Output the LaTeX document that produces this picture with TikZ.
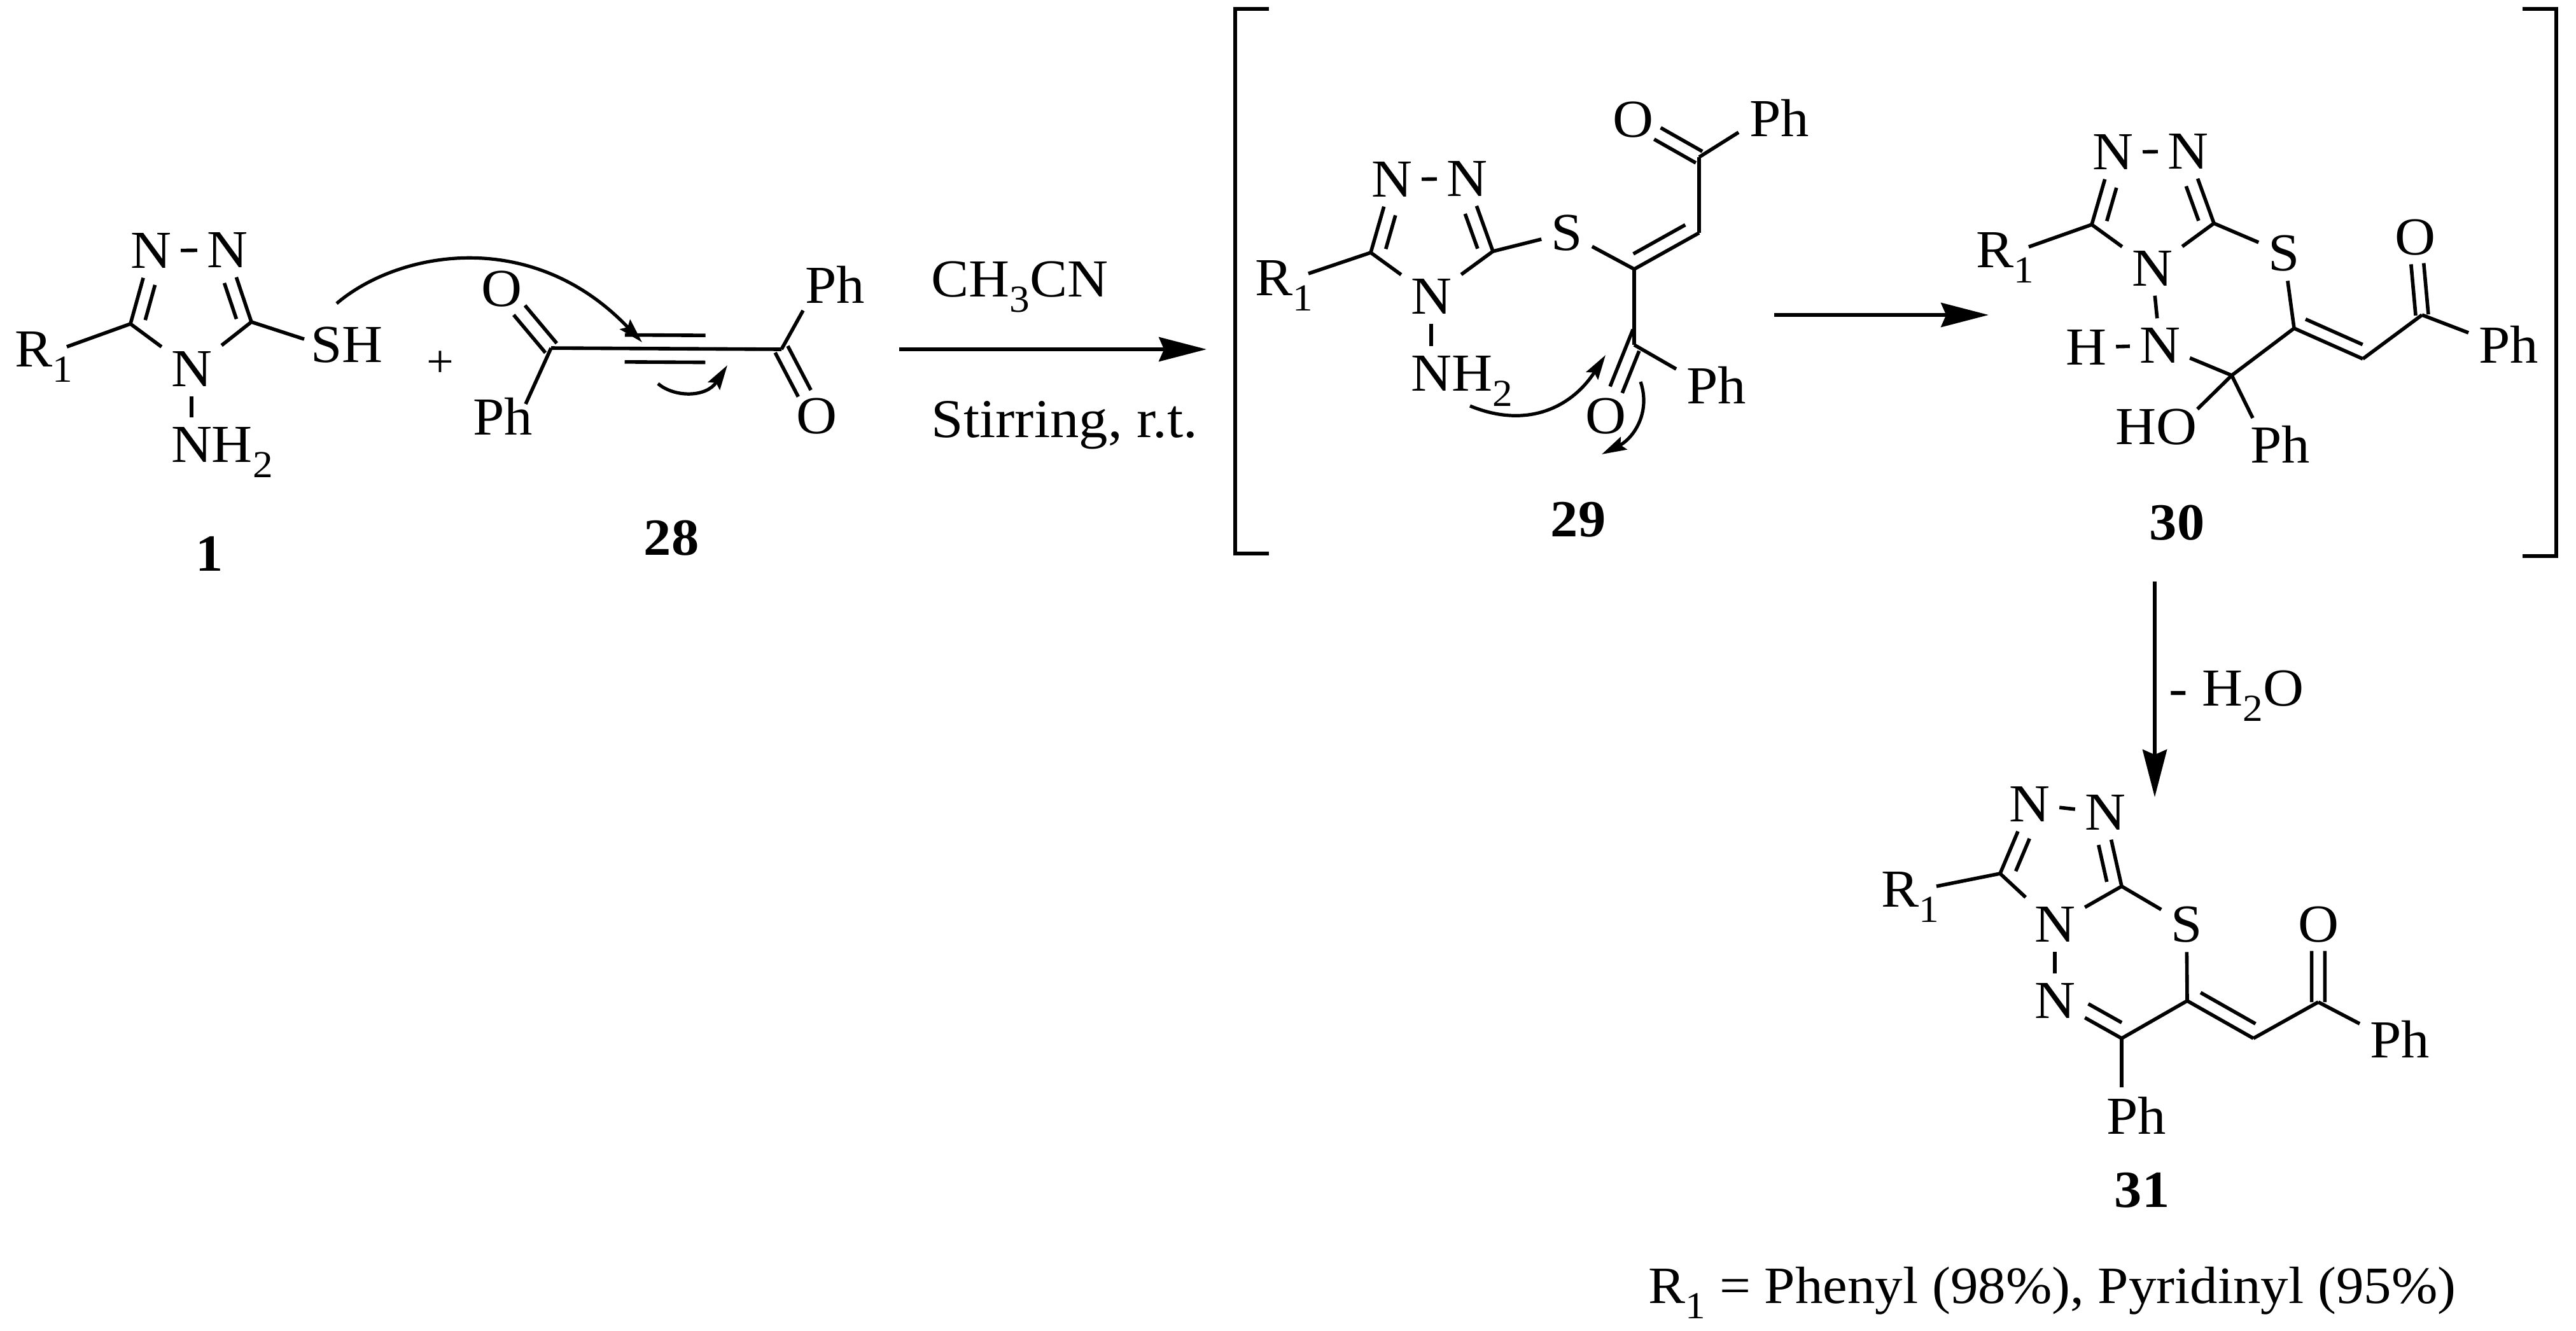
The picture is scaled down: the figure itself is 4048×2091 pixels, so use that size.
\documentclass[tikz,border=0pt]{standalone}
\usepackage{fontspec}
\setmainfont[FakeStretch=1.055]{Liberation Serif}
\usepackage{tikz}
\usetikzlibrary{arrows.meta}
\usetikzlibrary{calc}
\tikzstyle{atom} = [inner sep=3.6pt, font=\fontsize{21}{25}\selectfont]
\tikzstyle{cpdnum} = [inner sep=0pt, font=\fontsize{20.5}{25}\selectfont\bfseries]
\tikzstyle{cond} = [inner sep=0pt, anchor=base west, font=\fontsize{21}{25}\selectfont]
\tikzstyle{bond} = [draw, line width=1.4pt]
\tikzstyle{bracket} = [draw, line width=1.5pt]
\tikzstyle{react} = [draw, line width=1.5pt, -{Stealth[length=18.7pt,width=9.5pt,inset=2pt]}]
\tikzstyle{push} = [draw, line width=1.3pt, -{Stealth[length=9.7pt,width=5.5pt,inset=1.5pt]}]
\newcommand{\subnum}[1]{\raisebox{-6pt}[0pt][0pt]{\fontsize{15}{15}\selectfont #1}}
\newcommand{\rone}{R\rlap{\subnum{1}}}
\newcommand{\amine}{N\rlap{H\subnum{2}}}
% second line of a double bond: from, to, side offset
\newcommand{\inbond}[5]{\path [bond] ($(#1)!#4!(#2)!#3!90:(#2)$) -- ($(#1)!#5!(#2)!#3!90:(#2)$);}
\begin{document}
\begin{tikzpicture}[x=.25pt,y=-.25pt]
\useasboundingbox (0,0) rectangle (4048,2091);

    % Compound 1
    \node [atom] (aN1) at (237,394) {N};
    \node [atom] (aN2) at (357,393) {N};
    \node [atom] (aN4) at (301,580) {N};
    \node [atom] (aNH) at (301,699) {\amine};
    \node [atom] (aR) at (53,549) {\rone};
    \node [atom] (aSH) at (545,542) {SH};
    \coordinate (aC3) at (205,509);
    \coordinate (aC5) at (395,506);
    \node [cpdnum] (num1) at (329,870) {1};

    \path [bond] (aN1) -- (aN2);
    \path [bond] (aC3) -- (aN1);
    \path [bond] (aC5) -- (aN2);
    \path [bond] (aC3) -- (aN4);
    \path [bond] (aC5) -- (aN4);
    \path [bond] (aN4) -- (aNH);
    \path [bond] ($(aR)+(52,-4)$) -- (aC3);
    \path [bond] (aC5) -- ($(aSH)+(-67,-9)$);
    \inbond{aC3}{aN1}{-5.2pt}{.1}{.58}
    \inbond{aC5}{aN2}{5.2pt}{.1}{.6}

    \node [font=\fontsize{18}{18}\selectfont, inner sep=0pt] (plus) at (692,572) {+};

    % Compound 28
    \coordinate (bC1) at (866,547);
    \coordinate (bC2) at (1228,549);
    \node [atom] (bO1) at (788,454) {O};
    \node [atom] (bO2) at (1283,654) {O};
    \node [atom] (bPh1) at (790,654) {Ph};
    \node [atom] (bPh2) at (1312,447) {Ph};
    \node [cpdnum] (num28) at (1055,846) {28};

    \path [bond] (bC1) -- (bC2);
    \inbond{bC1}{bC2}{5.3pt}{.32}{.67}
    \inbond{bC1}{bC2}{-5.3pt}{.32}{.67}
    \inbond{bC1}{bO1}{2.9pt}{0}{.64}
    \inbond{bC1}{bO1}{-2.9pt}{0}{.64}
    \inbond{bC2}{bO2}{2.8pt}{0}{.66}
    \inbond{bC2}{bO2}{-2.8pt}{0}{.66}
    \path [bond] (bC1) -- ($(bPh1)+(36,-19)$);
    \path [bond] (bC2) -- ($(bPh2)+(-50,41)$);

    \path [push] ($(aSH)+(-16,-65)$) .. controls (625,395) and (835,355) .. (1009,538);
    \path [push] ($(bC1)+(168,56)$) .. controls (1060,625) and (1110,625) .. ($(bC2)+(-85,25)$);

    % Reaction conditions
    \coordinate (arrowAa) at (1413,549);
    \coordinate (arrowAb) at (1896,549);
    \path [react] (arrowAa) -- (arrowAb);
    \node [cond] (solvent) at (1463,466) {CH\subnum{3}CN};
    \node [cond, font=\fontsize{21.5}{25}\selectfont] (stir) at (1463,687) {Stirring, r.t.};

    % Brackets
    \path [bracket] (1994,14) -- (1941,14) -- (1941,870) -- (1994,870);
    \path [bracket] (3964,14) -- (4017,14) -- (4017,874) -- (3964,874);

    % Compound 29
    \node [atom] (cN1) at (2187,282) {N};
    \node [atom] (cN2) at (2305,281) {N};
    \node [atom] (cN4) at (2249,466) {N};
    \node [atom] (cNH) at (2249,587) {\amine};
    \node [atom] (cR) at (2002,437) {\rone};
    \node [atom] (cS) at (2462,366) {S};
    \node [atom] (cO1) at (2566,188) {O};
    \node [atom] (cO2) at (2523,654) {O};
    \node [atom] (cPh1) at (2796,185) {Ph};
    \node [atom] (cPh2) at (2697,605) {Ph};
    \coordinate (cC3) at (2154,397);
    \coordinate (cC5) at (2346,395);
    \coordinate (cCa) at (2568,423);
    \coordinate (cCb) at (2670,366);
    \coordinate (cCc) at (2670,247);
    \coordinate (cCd) at (2568,542);
    \node [cpdnum] (num29) at (2480,817) {29};

    \path [bond] (cN1) -- (cN2);
    \path [bond] (cC3) -- (cN1);
    \path [bond] (cC5) -- (cN2);
    \path [bond] (cC3) -- (cN4);
    \path [bond] (cC5) -- (cN4);
    \path [bond] (cN4) -- (cNH);
    \path [bond] ($(cR)+(54,-7)$) -- (cC3);
    \path [bond] (cC5) -- (cS);
    \path [bond] (cS) -- (cCa);
    \path [bond] (cCa) -- (cCb);
    \path [bond] (cCb) -- (cCc);
    \path [bond] (cCa) -- (cCd);
    \inbond{cC3}{cN1}{-5.3pt}{.1}{.56}
    \inbond{cC5}{cN2}{5.3pt}{.1}{.58}
    \inbond{cCa}{cCb}{5.4pt}{.09}{.89}
    \inbond{cCc}{cO1}{2.6pt}{0}{.63}
    \inbond{cCc}{cO1}{-2.6pt}{0}{.63}
    \inbond{cCd}{cO2}{2.7pt}{.05}{.64}
    \inbond{cCd}{cO2}{-2.7pt}{-.18}{.62}
    \path [bond] (cCc) -- ($(cPh1)+(-64,23)$);
    \path [bond] (cCd) -- ($(cPh2)+(-63,-25)$);

    \path [push] ($(cNH)+(61,51)$) .. controls (2400,675) and (2470,640) .. ($(cCd)+(-45,16)$);
    \path [push] ($(cO2)+(55,-54)$) .. controls (2595,650) and (2565,690) .. ($(cO2)+(-6,60)$);

    \coordinate (arrowBa) at (2788,495);
    \coordinate (arrowBb) at (3125,495);
    \path [react] (arrowBa) -- (arrowBb);

    % Compound 30
    \node [atom] (dN1) at (3320,239) {N};
    \node [atom] (dN2) at (3438,238) {N};
    \node [atom] (dN4) at (3382,422) {N};
    \node [atom] (dNH) at (3394,543) {N};
    \node [atom] (dH) at (3278,546) {H};
    \node [atom] (dR) at (3135,393) {\rone};
    \node [atom] (dS) at (3589,398) {S};
    \node [atom] (dO) at (3795,373) {O};
    \node [atom] (dHO) at (3388,671) {HO};
    \node [atom] (dPh1) at (3942,541) {Ph};
    \node [atom] (dPh2) at (3583,698) {Ph};
    \coordinate (dC3) at (3287,353);
    \coordinate (dC5) at (3479,351);
    \coordinate (dCa) at (3605,516);
    \coordinate (dCb) at (3713,564);
    \coordinate (dCc) at (3806,495);
    \coordinate (dCq) at (3507,590);
    \node [cpdnum] (num30) at (3421,822) {30};

    \path [bond] (dN1) -- (dN2);
    \path [bond] (dC3) -- (dN1);
    \path [bond] (dC5) -- (dN2);
    \path [bond] (dC3) -- (dN4);
    \path [bond] (dC5) -- (dN4);
    \path [bond] (dN4) -- (dNH);
    \path [bond] (dH) -- (dNH);
    \path [bond] (dNH) -- (dCq);
    \path [bond] ($(dR)+(53,-5)$) -- (dC3);
    \path [bond] (dC5) -- (dS);
    \path [bond] (dS) -- (dCa);
    \path [bond] (dCa) -- (dCb);
    \path [bond] (dCb) -- (dCc);
    \path [bond] (dCa) -- (dCq);
    \path [bond] (dCq) -- ($(dHO)+(65,-28)$);
    \path [bond] (dCq) -- ($(dPh2)+(-43,-41)$);
    \path [bond] (dCc) -- ($(dPh1)+(-63,-18)$);
    \inbond{dC3}{dN1}{-5.3pt}{.1}{.56}
    \inbond{dC5}{dN2}{5.3pt}{.1}{.58}
    \inbond{dCa}{dCb}{5.1pt}{.09}{.92}
    \inbond{dCc}{dO}{2.5pt}{0}{.66}
    \inbond{dCc}{dO}{-2.5pt}{0}{.66}

    \coordinate (arrowCa) at (3386,914);
    \coordinate (arrowCb) at (3386,1253);
    \path [react] (arrowCa) -- (arrowCb);
    \node [cond] (water) at (3408,1109) {- H\subnum{2}O};

    % Compound 31
    \node [atom] (eN1) at (3189,1264) {N};
    \node [atom] (eN2) at (3308,1277) {N};
    \node [atom] (eN4) at (3229,1453) {N};
    \node [atom] (eN5) at (3229,1573) {N};
    \node [atom] (eR) at (2986,1398) {\rone};
    \node [atom] (eS) at (3436,1453) {S};
    \node [atom] (eO) at (3643,1453) {O};
    \node [atom] (ePh1) at (3771,1633) {Ph};
    \node [atom] (ePh2) at (3357,1753) {Ph};
    \coordinate (eC3) at (3143,1373);
    \coordinate (eC5) at (3334,1393);
    \coordinate (eCa) at (3437,1573);
    \coordinate (eCb) at (3541,1632);
    \coordinate (eCc) at (3643,1575);
    \coordinate (eCn) at (3334,1632);
    \node [cpdnum] (num31) at (3366,1871) {31};

    \path [bond] (eN1) -- (eN2);
    \path [bond] (eC3) -- (eN1);
    \path [bond] (eC5) -- (eN2);
    \path [bond] (eC3) -- (eN4);
    \path [bond] (eC5) -- (eN4);
    \path [bond] (eN4) -- (eN5);
    \path [bond] (eCn) -- (eN5);
    \path [bond] ($(eR)+(57,-5)$) -- (eC3);
    \path [bond] (eC5) -- (eS);
    \path [bond] (eS) -- (eCa);
    \path [bond] (eCa) -- (eCb);
    \path [bond] (eCb) -- (eCc);
    \path [bond] (eCa) -- (eCn);
    \path [bond] (eCc) -- ($(ePh1)+(-63,-24)$);
    \path [bond] (eCn) -- ($(ePh2)+(-23,-44)$);
    \inbond{eC3}{eN1}{-5.3pt}{.11}{.58}
    \inbond{eC5}{eN2}{5.3pt}{.1}{.6}
    \inbond{eCa}{eCb}{5.4pt}{.1}{.93}
    \inbond{eCn}{eN5}{-5.4pt}{.1}{.6}
    \inbond{eCc}{eO}{2.6pt}{0}{.66}
    \inbond{eCc}{eO}{-2.6pt}{0}{.66}

    \node [cond, font=\fontsize{20.6}{25}\selectfont] (yields) at (2590,2048) {R\subnum{1} = Phenyl (98\%), Pyridinyl (95\%)};
\end{tikzpicture}
\end{document}
